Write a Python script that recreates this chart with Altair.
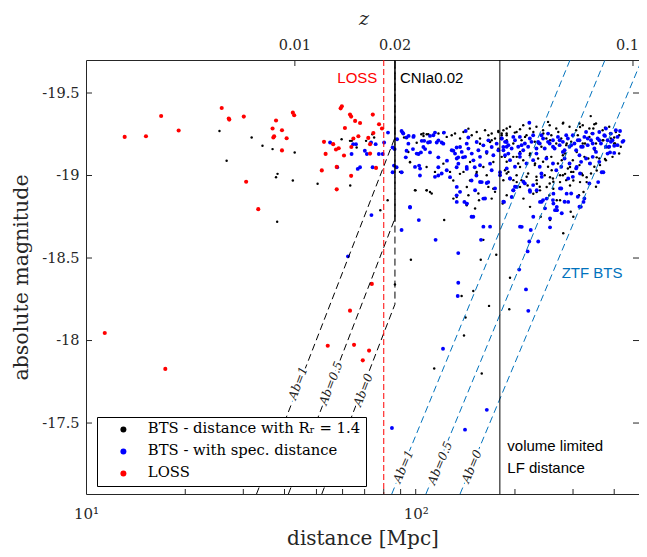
import altair as alt
import pandas as pd

# ---------------- data ----------------
# (distance [Mpc], absolute magnitude)
red_points = [
    (13.1, -19.234), (15.2, -19.238), (16.9, -19.361), (19.1, -19.273), (25.8, -19.409),
    (27.1, -19.345), (27.2, -19.339), (30.1, -19.357), (30.6, -18.962), (33.3, -18.796),
    (36.8, -19.285), (37.0, -19.23), (37.2, -19.238), (37.7, -19.333), (39.3, -19.274),
    (40.6, -19.226), (39.3, -19.152), (42.4, -19.381), (42.8, -19.365), (51.9, -19.031),
    (52.7, -19.204), (53.3, -19.131), (56.2, -19.19), (57.3, -19.158), (58.4, -19.165),
    (60.6, -19.121), (57.6, -19.052), (63.7, -18.998), (57.6, -18.916), (59.7, -19.42),
    (59.2, -19.407), (63.2, -19.369), (63.7, -19.357), (61.0, -19.288), (65.5, -19.331),
    (67.8, -19.318), (74.1, -19.369), (77.4, -19.311), (79.0, -19.285), (71.8, -19.228),
    (74.4, -19.258), (67.0, -19.238), (63.8, -19.173), (64.7, -19.224), (72.7, -19.19),
    (72.7, -19.133), (75.8, -19.046), (11.4, -18.046), (17.4, -17.828), (54.1, -17.968),
    (65.0, -17.974), (72.2, -17.939), (69.1, -17.88), (63.2, -18.181), (73.6, -18.343),
]

blue_points = [
    (82.4, -19.26), (79.4, -19.13), (85.1, -19.17), (64.6, -19.19), (63.9, -19.13),
    (67.8, -19.05), (66.7, -19.04), (74.0, -19.05), (90.6, -19.27), (93.8, -19.23),
    (98.6, -19.24), (104.3, -19.21), (93.3, -19.11), (98.1, -19.16), (103.7, -19.14),
    (87.5, -19.05), (90.6, -19.02), (85.1, -19.02), (102.4, -19.06), (103.0, -19.00),
    (96.1, -18.81), (102.2, -18.73), (90.6, -18.67), (73.4, -18.76), (62.3, -18.51),
    (114.9, -18.61), (110.5, -19.24), (114.4, -19.26), (121.8, -19.26), (115.8, -19.20),
    (119.9, -19.20), (110.5, -19.14), (117.1, -19.11), (124.4, -19.09), (117.1, -19.05),
    (130.1, -19.15), (133.1, -19.17), (134.6, -19.11), (139.1, -19.11), (141.8, -19.27),
    (144.4, -19.23), (133.1, -19.05), (142.9, -19.04), (151.0, -19.05), (147.7, -18.97),
    (152.8, -19.00), (127.1, -18.99), (117.1, -19.00), (133.1, -18.88), (142.9, -18.83),
    (140.5, -18.84), (149.5, -18.75), (147.7, -18.75), (158.6, -18.96), (166.0, -18.96),
    (180.2, -19.02), (160.4, -18.69), (168.1, -18.69), (157.8, -18.61), (134.6, -18.53),
    (185.3, -18.84), (197.7, -18.91), (195.5, -18.87), (134.6, -18.35), (134.1, -18.27),
    (121.0, -17.95), (164.3, -17.58), (141.1, -17.46), (84.7, -17.47), (216.0, -18.31),
    (219.5, -18.18), (206.0, -18.43), (221.0, -18.60), (218.5, -18.54), (207.2, -18.69),
    (223.3, -18.67), (235.3, -18.60), (227.3, -18.75), (238.2, -18.84), (249.6, -18.86),
    (261.6, -18.83), (264.6, -18.79), (267.8, -18.79), (261.6, -18.89), (286.9, -18.89),
    (290.1, -18.84), (316.7, -18.81), (322.8, -18.84), (357.6, -18.96), (370.8, -19.02),
    (55.0, -19.20), (65.9, -19.19), (70.1, -19.15), (71.1, -19.13), (73.2, -19.20),
    (75.6, -19.19), (77.3, -19.13), (80.2, -19.20), (57.8, -19.05), (85.9, -19.06),
    (86.3, -19.16), (87.8, -19.22), (91.3, -19.26), (95.2, -19.24), (93.8, -19.15),
    (102.0, -19.13), (106.1, -19.21), (109.0, -19.20), (106.8, -19.16),
    (128.6, -19.153), (131.6, -19.133), (133.2, -19.103), (136.3, -19.173), (137.9, -19.143),
    (141.2, -19.113), (142.8, -19.193), (144.5, -19.163), (147.9, -19.133), (149.6, -19.092),
    (153.1, -19.203), (154.9, -19.153), (156.7, -19.113), (160.4, -19.183), (164.2, -19.143),
    (166.1, -19.213), (170.0, -19.173), (172.0, -19.123), (176.0, -19.193), (178.1, -19.153),
    (182.3, -19.224), (184.4, -19.173), (188.7, -19.203), (190.9, -19.133), (134.7, -19.072),
    (142.8, -19.052), (156.7, -19.062), (168.1, -19.072), (117.2, -19.213), (121.3, -19.193),
    (110.5, -19.203), (113.1, -19.244), (105.5, -19.173), (98.4, -19.234), (91.7, -19.254),
    (95.0, -19.193), (100.7, -19.133), (124.2, -19.032), (119.9, -19.012), (114.4, -18.992),
    (103.1, -19.042), (99.5, -19.052), (133.2, -18.931), (136.3, -18.901), (156.7, -18.961),
    (164.2, -18.955), (151.4, -18.911), (160.4, -18.86), (133.2, -18.84), (142.8, -18.83),
    (96.1, -18.806),
    (182.3, -19.224), (186.6, -19.204), (191.0, -19.184), (184.5, -19.153), (195.4, -19.164),
    (200.0, -19.214), (204.6, -19.174), (207.0, -19.234), (214.3, -19.194), (211.9, -19.153),
    (219.3, -19.174), (224.5, -19.204), (227.1, -19.244), (232.4, -19.164), (237.8, -19.194),
    (243.4, -19.224), (246.2, -19.164), (252.0, -19.254), (254.9, -19.194), (260.8, -19.214),
    (263.8, -19.164), (270.0, -19.234), (273.2, -19.184), (279.5, -19.204), (282.8, -19.153),
    (289.4, -19.224), (292.8, -19.174), (299.6, -19.244), (303.1, -19.194), (306.6, -19.153),
    (313.8, -19.214), (317.4, -19.174), (324.8, -19.234), (328.6, -19.264), (332.4, -19.184),
    (340.2, -19.214), (344.2, -19.254), (348.2, -19.164), (356.3, -19.224), (360.4, -19.264),
    (364.6, -19.194), (373.2, -19.244), (377.5, -19.285), (381.9, -19.214), (390.8, -19.254),
    (395.3, -19.214), (404.6, -19.274), (409.3, -19.234), (423.7, -19.204), (386.3, -19.174),
    (186.6, -19.123), (193.2, -19.093), (200.0, -19.053), (207.0, -19.113), (216.8, -19.073),
    (227.1, -19.093), (237.8, -19.053), (249.1, -19.103), (260.8, -19.073), (266.9, -19.032),
    (276.3, -19.053), (282.8, -19.103), (292.8, -19.073), (306.6, -19.043), (317.4, -19.083),
    (328.6, -19.103), (344.2, -19.113), (360.4, -19.083), (381.9, -19.133), (399.9, -19.137),
    (193.2, -18.982), (200.0, -18.932), (214.3, -18.952), (221.9, -18.911), (227.1, -18.942),
    (243.4, -18.851), (260.8, -18.851), (276.3, -18.921), (282.8, -18.841), (296.2, -18.891),
    (310.2, -18.871), (313.8, -18.811), (324.8, -18.861), (336.3, -18.952),
    (221.1, -19.32), (416.6, -19.27), (426.7, -19.21), (400.0, -19.18), (375.0, -19.24),
    (388.5, -19.14), (366.6, -19.02),
    (188.8, -19.174), (197.7, -19.234), (209.4, -19.184), (221.9, -19.224), (235.1, -19.204),
    (240.6, -19.244), (252.0, -19.204), (260.8, -19.174), (273.2, -19.214), (286.1, -19.244),
    (296.2, -19.184), (310.2, -19.214), (321.1, -19.174), (332.4, -19.224), (344.2, -19.194),
    (360.4, -19.214), (377.5, -19.174), (390.8, -19.204), (409.3, -19.184), (207.0, -19.133),
    (232.4, -19.133), (279.5, -19.143), (313.8, -19.123), (352.2, -19.143), (188.8, -19.043),
    (240.6, -19.012), (299.6, -18.992),
    (162.3, -18.861), (174.0, -18.922), (184.4, -18.841), (197.7, -18.911), (202.5, -18.931),
    (222.2, -18.901), (232.8, -18.911), (241.1, -18.841), (246.7, -18.801), (267.8, -18.79),
    (274.0, -18.922), (277.3, -18.771), (255.5, -18.74), (267.8, -18.81), (315.1, -19.012),
    (307.8, -19.052), (337.9, -19.073), (209.7, -18.689), (255.5, -18.686), (170.0, -19.032),
    (180.2, -19.002), (193.2, -18.982), (212.2, -18.962), (241.1, -18.992), (290.1, -18.982),
]

black_points = [
    (25.4, -19.27), (26.7, -19.09), (31.8, -19.23), (34.3, -19.18), (36.8, -19.16),
    (38.1, -19.01), (37.7, -18.99), (42.95, -19.14), (42.4, -18.97), (38.0, -18.72),
    (50.4, -18.95), (63.3, -18.94), (59.6, -19.22), (63.2, -19.21), (70.7, -19.21),
    (66.2, -19.17), (64.0, -19.21), (74.8, -19.23), (73.9, -19.25), (78.1, -18.79),
    (82.2, -18.85), (86.5, -18.34), (91.0, -19.02), (96.1, -19.08), (96.7, -18.49),
    (99.9, -18.91), (108.0, -18.91), (92.2, -19.23), (104.0, -19.25), (105.6, -19.24),
    (108.0, -19.25), (110.5, -18.90), (122.0, -18.73), (133.1, -18.87), (136.2, -18.90),
    (142.9, -18.93), (155.6, -18.85), (170.0, -18.86), (171.9, -18.92), (160.4, -18.61),
    (157.5, -18.49), (175.5, -18.52), (193.2, -18.38), (183.6, -18.83), (202.5, -18.96),
    (218.5, -18.94), (233.0, -18.95), (249.6, -18.93), (255.5, -18.99), (274.0, -18.96),
    (283.8, -19.01), (300.6, -18.97), (315.1, -18.96), (330.0, -18.99), (354.0, -19.03),
    (312.8, -18.88), (322.8, -18.90), (295.2, -18.78), (283.8, -18.84), (267.8, -18.85),
    (254.3, -18.88), (238.2, -18.91), (227.3, -18.89), (212.2, -18.86), (222.2, -18.81),
    (239.4, -18.75), (255.5, -18.73), (280.2, -18.65), (300.6, -18.75), (317.3, -18.81),
    (280.2, -19.32), (339.5, -19.36), (178.0, -19.27), (207.2, -19.28), (199.8, -19.26),
    (375.0, -19.29), (400.0, -19.23), (384.0, -19.17), (375.0, -19.10), (354.0, -19.11),
    (192.2, -18.19), (137.8, -18.27), (149.5, -18.30), (166.9, -18.21), (141.6, -18.14),
    (140.1, -18.03), (113.8, -17.83), (158.6, -17.80),
    (105.5, -19.254), (109.2, -19.25), (113.1, -19.244), (117.2, -19.254), (121.3, -19.258),
    (124.2, -19.234), (128.6, -19.244), (131.6, -19.254), (136.3, -19.224), (139.6, -19.264),
    (144.5, -19.284), (147.9, -19.244), (153.1, -19.264), (156.7, -19.224), (162.3, -19.274),
    (166.1, -19.244), (170.0, -19.254), (174.0, -19.224), (178.1, -19.264), (182.3, -19.244),
    (188.7, -19.254), (156.7, -19.193), (168.1, -19.203), (178.1, -19.163), (186.5, -19.113),
    (172.0, -19.082), (160.4, -19.052), (146.2, -19.082), (139.6, -19.022), (127.1, -19.022),
    (121.3, -19.072), (114.4, -19.022), (107.9, -19.052), (96.1, -19.082), (89.6, -19.022),
    (99.5, -18.911), (107.9, -18.911), (111.8, -18.891), (130.1, -18.86), (144.5, -18.88),
    (154.9, -18.891), (166.1, -18.931), (174.0, -18.901), (142.8, -18.82), (151.4, -18.80),
    (180.2, -19.002), (184.4, -18.971), (186.5, -19.032), (153.1, -19.022), (164.2, -19.002),
    (100.7, -19.199), (95.0, -19.143),
    (184.5, -19.274), (193.2, -19.295), (202.3, -19.264), (211.9, -19.305), (221.9, -19.285),
    (232.4, -19.295), (243.4, -19.274), (254.9, -19.305), (266.9, -19.285), (279.5, -19.315),
    (292.8, -19.295), (306.6, -19.274), (321.1, -19.305), (336.3, -19.285), (352.2, -19.315),
    (368.9, -19.274), (386.3, -19.295), (404.6, -19.264), (252.0, -19.325), (348.2, -19.311),
    (313.8, -19.315), (188.8, -19.244), (197.7, -19.194), (209.4, -19.214), (216.8, -19.244),
    (229.7, -19.204), (240.6, -19.174), (249.1, -19.224), (257.8, -19.244), (266.9, -19.194),
    (276.3, -19.224), (286.1, -19.184), (296.2, -19.204), (310.2, -19.244), (321.1, -19.194),
    (336.3, -19.234), (352.2, -19.194), (368.9, -19.214), (390.8, -19.224), (414.0, -19.244),
    (418.8, -19.174), (399.9, -19.194), (182.3, -19.113), (188.8, -19.083), (197.7, -19.113),
    (204.6, -19.073), (211.9, -19.093), (221.9, -19.123), (229.7, -19.063), (235.1, -19.103),
    (243.4, -19.083), (252.0, -19.053), (257.8, -19.113), (270.0, -19.073), (279.5, -19.123),
    (289.4, -19.043), (299.6, -19.093), (313.8, -19.063), (324.8, -19.113), (336.3, -19.073),
    (348.2, -19.053), (360.4, -19.103), (377.5, -19.093), (395.3, -19.113), (414.0, -19.133),
    (191.0, -19.022), (202.3, -19.002), (219.3, -19.012), (232.4, -18.992), (246.2, -19.002),
    (260.8, -18.982), (279.5, -19.002), (296.2, -19.022), (321.1, -19.002), (340.2, -19.012),
    (254.9, -18.952), (237.8, -18.932), (286.1, -18.972), (352.2, -18.932), (209.4, -18.972),
    (182.3, -19.254), (188.8, -19.214), (195.5, -19.163), (202.5, -19.113), (207.2, -19.052),
    (214.6, -19.234), (222.2, -19.133), (230.1, -19.073), (235.4, -19.194), (243.8, -19.254),
    (249.6, -19.113), (258.5, -19.032), (261.4, -19.173), (270.7, -19.264), (277.3, -19.093),
    (287.1, -19.194), (293.8, -19.052), (300.6, -19.244), (307.8, -19.143), (318.8, -19.012),
    (326.2, -19.194), (333.8, -19.103), (341.8, -19.254), (349.8, -19.153), (362.2, -19.063),
    (370.7, -19.214), (379.6, -19.173), (388.5, -19.254), (402.3, -19.194), (188.8, -19.012),
    (197.8, -18.972), (217.0, -18.992), (232.7, -18.972), (261.4, -18.962), (274.0, -19.002),
    (300.6, -19.022), (207.2, -19.143), (227.4, -19.264), (255.5, -19.214), (283.7, -19.133),
    (315.1, -19.294), (345.7, -19.285), (188.8, -19.285), (170.0, -19.214), (164.2, -19.133),
    (207.2, -18.93), (232.7, -18.90), (261.4, -18.92), (293.8, -18.94), (330.0, -18.96),
    (188.8, -18.88), (274.0, -18.85), (146.1, -18.97), (152.8, -19.01), (136.2, -19.01),
    (130.0, -18.97),
]

series_names = ["BTS - distance with R\u1d63 = 1.4", "BTS - with spec. distance", "LOSS"]
series_colors = ["#000000", "#0000FF", "#FF0000"]
series_sizes = [6, 15, 17]

# limit lines
ab_labels = ["Ab=1", "Ab=0.5", "Ab=0"]
cn_bottom_d = [32.9, 41.1, 51.9]       # CNIa0.02 limits at the bottom edge
cn_kink_M = [-19.23, -18.74, -18.22]   # where they meet z = 0.02
cn_z02_d = 86.5
ztf_bottom_d = [84.6, 107.4, 136.3]
ztf_top_d = [293.8, 375.0, 484.8]
M_top, M_bottom = -19.7, -17.07
loss_d = 80.0
vol_d = 180.0
cn_solid_M = (-19.7, -18.72)

# Ab label positions (distance, magnitude)
cn_label_pos = [(43.95, -17.742), (55.3, -17.742), (69.3, -17.70)]
ztf_label_pos = [(91.7, -17.237), (118.5, -17.258), (147.9, -17.237)]

z_tick_labels = ["0.01", "0.02", "0.1"]
z_tick_d = [43.0, 86.6, 456.0]
x_ticks = [20, 30, 40, 50, 60, 70, 80, 90, 100, 200, 300, 400]
y_ticks = [-19.5, -19, -18.5, -18, -17.5]

# ---------------- tables ----------------
rows = []
for name, pts, sz in zip(series_names, [black_points, blue_points, red_points], series_sizes):
    for d, m in pts:
        rows.append({"d": d, "M": m, "series": name, "sz": sz})
df_pts = pd.DataFrame(rows)

cn_rows = []
for lab, bd, km in zip(ab_labels, cn_bottom_d, cn_kink_M):
    cn_rows += [{"ab": lab, "idx": 0, "d": bd, "M": M_bottom},
                {"ab": lab, "idx": 1, "d": cn_z02_d, "M": km},
                {"ab": lab, "idx": 2, "d": cn_z02_d, "M": M_top}]
df_cn = pd.DataFrame(cn_rows)

ztf_rows = []
for lab, bd, td in zip(ab_labels, ztf_bottom_d, ztf_top_d):
    ztf_rows += [{"ab": lab, "idx": 0, "d": bd, "M": M_bottom},
                 {"ab": lab, "idx": 1, "d": td, "M": M_top}]
df_ztf = pd.DataFrame(ztf_rows)

df_cn_lab = pd.DataFrame({"d": [p[0] for p in cn_label_pos], "M": [p[1] for p in cn_label_pos], "t": ab_labels})
df_ztf_lab = pd.DataFrame({"d": [p[0] for p in ztf_label_pos], "M": [p[1] for p in ztf_label_pos], "t": ab_labels})

# ---------------- encodings ----------------
W, H = 553, 434
AX = "#262626"
SERIF = "DejaVu Serif"
SANS = "Liberation Sans"

xscale = alt.Scale(type="log", domain=[10, 475.6], nice=False)
yscale = alt.Scale(domain=[-19.7, -17.07], reverse=True, nice=False, zero=False)

X = alt.X("d:Q", scale=xscale, axis=alt.Axis(
    values=[10, 100], labelExpr="datum.value == 10 ? '10\u00b9' : '10\u00b2'",
    ticks=False, domain=False, grid=False, labelFlush=False,
    labelFont=SERIF, labelFontSize=15, labelColor=AX, labelPadding=12,
    title="distance [Mpc]", titleFont=SERIF, titleFontSize=20, titleFontWeight="normal",
    titleColor=AX, titlePadding=7))
Y = alt.Y("M:Q", scale=yscale, axis=alt.Axis(
    values=y_ticks, labelExpr="'' + datum.value",
    ticks=False, domain=False, grid=False,
    labelFont=SERIF, labelFontSize=14.5, labelColor=AX, labelPadding=7,
    title="absolute magnitude", titleFont=SERIF, titleFontSize=20.5, titleFontWeight="normal",
    titleColor=AX, titlePadding=10))

points = alt.Chart(df_pts).mark_circle(opacity=1, strokeWidth=0).encode(
    x=X, y=Y,
    color=alt.Color("series:N", scale=alt.Scale(domain=series_names, range=series_colors),
                    legend=alt.Legend(title=None, orient="none", legendX=11, legendY=357,
                                      padding=5, symbolOffset=14, labelOffset=17, rowPadding=6,
                                      symbolSize=36, symbolType="circle", symbolStrokeWidth=0,
                                      labelFont=SERIF, labelFontSize=14.8, labelColor="black",
                                      labelLimit=400, strokeColor="black", fillColor="white")),
    size=alt.Size("sz:Q", scale=None),
)

cn_lines = alt.Chart(df_cn).mark_line(color="black", strokeWidth=1, strokeDash=[7, 4]).encode(
    x=X, y=Y, detail="ab:N", order="idx:O")
ztf_lines = alt.Chart(df_ztf).mark_line(color="#0072BD", strokeWidth=1, strokeDash=[7, 4], clip=True).encode(
    x=X, y=Y, detail="ab:N", order="idx:O")

loss_rule = alt.Chart(pd.DataFrame({"d": [loss_d]})).mark_rule(
    color="#FF0000", strokeWidth=1, strokeDash=[6, 3]).encode(x=X)
vol_rule = alt.Chart(pd.DataFrame({"d": [vol_d]})).mark_rule(color="black", strokeWidth=1).encode(x=X)
cn_rule = alt.Chart(pd.DataFrame({"d": [cn_z02_d], "M": [cn_solid_M[0]], "M2": [cn_solid_M[1]]})).mark_rule(
    color="black", strokeWidth=1).encode(x=X, y=Y, y2="M2:Q")

# inward ticks
df_yt = pd.DataFrame({"M": y_ticks})
df_xt = pd.DataFrame({"d": x_ticks})
df_zt = pd.DataFrame({"d": z_tick_d, "label": z_tick_labels})
left_ticks = alt.Chart(df_yt).mark_rule(color=AX).encode(y=Y, x=alt.value(0), x2=alt.value(6))
right_ticks = alt.Chart(df_yt).mark_rule(color=AX).encode(y=Y, x=alt.value(W), x2=alt.value(W - 6))
bottom_ticks = alt.Chart(df_xt).mark_rule(color=AX).encode(x=X, y=alt.value(H), y2=alt.value(H - 5))
top_ticks = alt.Chart(df_zt).mark_rule(color=AX).encode(x=X, y=alt.value(0), y2=alt.value(6))
top_labels = alt.Chart(df_zt.iloc[:2]).mark_text(font=SERIF, fontSize=14.5, color=AX, baseline="alphabetic").encode(
    x=X, y=alt.value(-10), text="label:N")
top_label_edge = alt.Chart(df_zt.iloc[2:]).mark_text(font=SERIF, fontSize=14.5, color=AX, baseline="alphabetic",
                                                     align="right", dx=6).encode(
    x=X, y=alt.value(-10), text="label:N")
z_title = alt.Chart(pd.DataFrame({"t": ["z"]})).mark_text(
    font=SERIF, fontSize=19, fontStyle="italic", color=AX, baseline="alphabetic").encode(
    x=alt.value(278), y=alt.value(-35), text="t:N")

# Ab labels with a white halo that breaks the dashed line
def ab_text(df, angle):
    halo = alt.Chart(df).mark_text(font=SERIF, fontStyle="italic", fontSize=12, angle=angle,
                                   color="white", stroke="white", strokeWidth=5, strokeJoin="round").encode(
        x=X, y=Y, text="t:N")
    txt = alt.Chart(df).mark_text(font=SERIF, fontStyle="italic", fontSize=12, angle=angle,
                                  color="#222222").encode(x=X, y=Y, text="t:N")
    return halo + txt

cn_txt = ab_text(df_cn_lab, 291)
ztf_txt = ab_text(df_ztf_lab, 293)

loss_txt = alt.Chart(pd.DataFrame({"d": [76.5], "M": [-19.591], "t": ["LOSS"]})).mark_text(
    font=SANS, fontSize=15, color="#FF0000", align="right", baseline="middle").encode(x=X, y=Y, text="t:N")
left_txt = alt.Chart(pd.DataFrame({
    "d": [89.6, 189.6, 189.6], "M": [-19.591, -17.358, -17.227],
    "t": ["CNIa0.02", "volume limited", "LF distance"]})).mark_text(
    font=SANS, fontSize=15, color="black", align="left", baseline="middle").encode(x=X, y=Y, text="t:N")
ztf_name = alt.Chart(pd.DataFrame({"d": [277.2], "M": [-18.41], "t": ["ZTF BTS"]})).mark_text(
    font=SANS, fontSize=15, color="#0072BD", align="left", baseline="middle").encode(x=X, y=Y, text="t:N")

chart = alt.layer(
    points, ztf_lines, cn_lines, loss_rule, vol_rule, cn_rule,
    left_ticks, right_ticks, bottom_ticks, top_ticks, top_labels, top_label_edge, z_title,
    cn_txt, ztf_txt, loss_txt, left_txt, ztf_name,
).properties(
    width=W, height=H,
    padding={"left": 78, "top": 52, "right": 0, "bottom": 55},
    autosize=alt.AutoSizeParams(type="none"),
    background="white",
).configure_view(stroke=AX, strokeWidth=1)

chart.save("out.html", embed_options={"renderer": "svg", "actions": False})
